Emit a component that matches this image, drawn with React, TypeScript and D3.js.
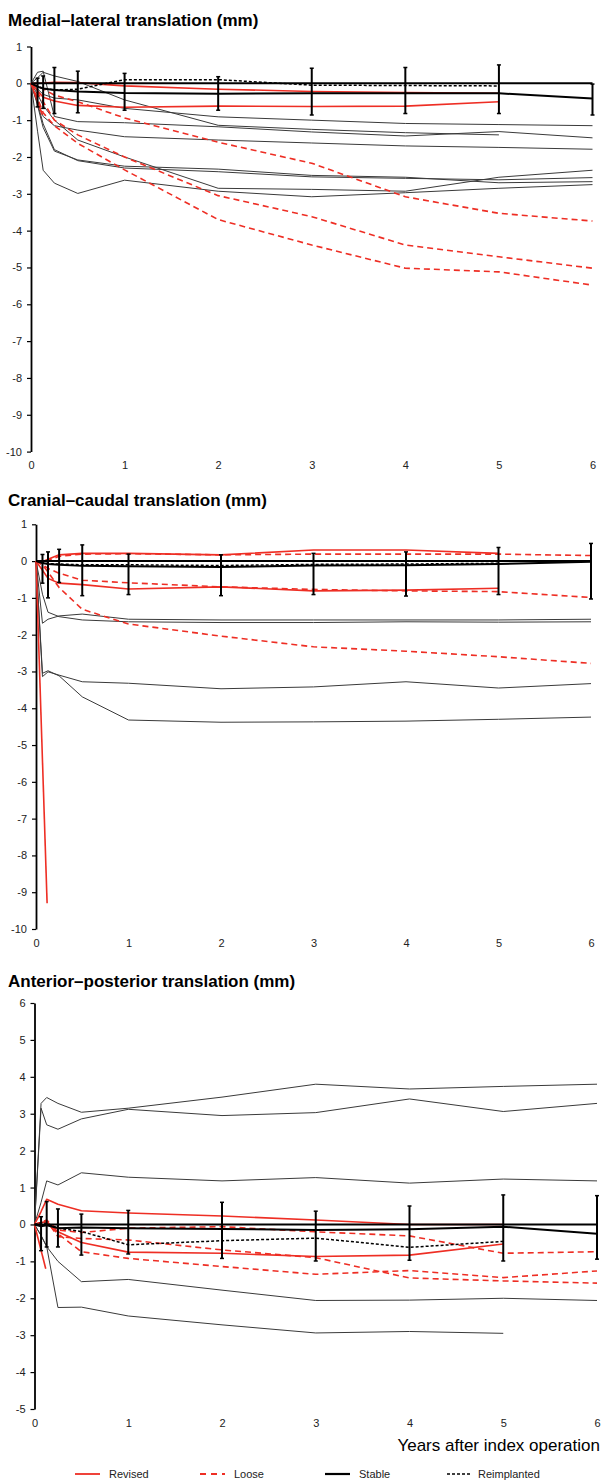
import { useEffect, useRef } from 'react';
import * as d3 from 'd3';

const W = 604;
const H = 1482;
const RED = '#ee2e24';
const FONT = '"Liberation Sans", Arial, Helvetica, sans-serif';

// measurement times (years)
const times = [0, 0.07, 0.13, 0.25, 0.5, 1, 2, 3, 4, 5, 6];
const earlyTimes = [0, 0.12];
const xTicks = [0, 1, 2, 3, 4, 5, 6];

// ---- Medial-lateral ----
const mlStable = [0, -0.09, -0.14, -0.18, -0.22, -0.26, -0.28, -0.27, -0.27, -0.27, -0.41];
const mlStableLow = [null, -0.64, -0.68, -0.82, -0.8, -0.73, -0.73, -0.86, -0.82, -0.82, -0.86];
const mlStableHigh = [null, 0.14, 0.2, 0.43, 0.33, 0.27, 0.18, 0.41, 0.43, 0.5, -0.02];
const mlReimplanted = [0, -0.08, -0.14, -0.18, -0.16, 0.1, 0.1, -0.05, -0.06, -0.07];
const mlRevised1 = [0, 0, 0.01, 0.03, 0.02, -0.07, -0.16, -0.22, -0.25, -0.27];
const mlRevised2 = [0, -0.2, -0.38, -0.48, -0.6, -0.65, -0.62, -0.63, -0.62, -0.5];
const mlRevised3 = [0, -0.85];
const mlLoose1 = [0, -0.08, -0.15, -0.32, -0.5, -0.94, -1.6, -2.17, -3.08, -3.53, -3.74];
const mlLoose2 = [0, -0.25, -0.5, -1.0, -1.4, -2.0, -3.05, -3.62, -4.39, -4.71, -5.02];
const mlLoose3 = [0, -0.4, -0.8, -1.15, -1.63, -2.35, -3.7, -4.39, -5.02, -5.12, -5.48];
const mlThin1 = [0, -0.15, -0.3, -0.4, -0.45, -0.68, -0.91, -1.0, -1.09, -1.12, -1.15];
const mlThin2 = [0, 0.15, 0.3, 0.2, 0.05, -0.45, -1.14, -1.25, -1.34, -1.4];
const mlThin3 = [0, 0.3, 0.33, -0.9, -1.04, -1.07, -1.18, -1.32, -1.43, -1.31, -1.48];
const mlThin4 = [0, -0.5, -0.9, -1.15, -1.27, -1.45, -1.54, -1.62, -1.7, -1.74, -1.79];
const mlThin5 = [0, -0.3, -0.6, -1.0, -1.54, -2.0, -2.85, -2.88, -2.93, -2.55, -2.36];
const mlThin6 = [0, -0.6, -1.2, -1.84, -2.08, -2.25, -2.33, -2.5, -2.55, -2.7, -2.67];
const mlThin7 = [0, -0.55, -1.1, -1.8, -2.1, -2.3, -2.4, -2.54, -2.58, -2.62, -2.56];
const mlThin8 = [0, -1.3, -2.36, -2.71, -2.99, -2.63, -2.93, -3.08, -2.97, -2.85, -2.75];

// ---- Cranial-caudal ----
const ccStable = [0, -0.05, -0.08, -0.1, -0.13, -0.14, -0.16, -0.12, -0.11, -0.08, -0.02];
const ccStableLow = [null, -0.6, -1.0, -0.58, -0.94, -0.91, -0.94, -0.91, -0.95, -0.91, -1.03];
const ccStableHigh = [null, 0.18, 0.25, 0.32, 0.44, 0.19, 0.17, 0.21, 0.25, 0.37, 0.48];
const ccReimplanted = [0, -0.04, -0.07, -0.08, -0.1, -0.1, -0.12, -0.09, -0.08, -0.06];
const ccRevised1 = [0, -0.02, 0.05, 0.17, 0.21, 0.21, 0.17, 0.3, 0.3, 0.21];
const ccRevised2 = [0, -0.25, -0.47, -0.6, -0.64, -0.76, -0.7, -0.81, -0.79, -0.74];
const ccRevised3 = [0, -9.3];
const ccLoose1 = [0, 0, 0.02, 0.13, 0.19, 0.2, 0.17, 0.19, 0.19, 0.19, 0.15];
const ccLoose2 = [0, -0.1, -0.2, -0.33, -0.52, -0.59, -0.7, -0.77, -0.81, -0.83, -0.99];
const ccLoose3 = [0, -0.1, -0.3, -0.72, -1.31, -1.71, -2.04, -2.33, -2.45, -2.6, -2.78];
const ccThin1 = [0, -1.69, -1.58, -1.49, -1.44, -1.58, -1.6, -1.6, -1.6, -1.6, -1.58];
const ccThin2 = [0, -0.9, -1.39, -1.51, -1.6, -1.65, -1.67, -1.67, -1.65, -1.66, -1.65];
const ccThin3 = [0, -3.14, -3.01, -3.1, -3.28, -3.32, -3.47, -3.42, -3.28, -3.45, -3.33];
const ccThin4 = [0, -3.05, -2.98, -3.12, -3.69, -4.32, -4.38, -4.37, -4.35, -4.3, -4.24];

// ---- Anterior-posterior ----
const apStable = [0, -0.05, -0.02, -0.1, -0.08, -0.1, -0.12, -0.15, -0.13, -0.06, -0.25];
const apStableLow = [null, -0.71, -0.61, -0.61, -0.83, -0.8, -0.92, -0.99, -0.97, -0.99, -0.94];
const apStableHigh = [null, 0.21, 0.62, 0.42, 0.28, 0.38, 0.6, 0.36, 0.5, 0.8, 0.78];
const apReimplanted = [0, 0.05, 0.02, -0.1, -0.19, -0.55, -0.44, -0.37, -0.62, -0.46];
const apRevised1 = [0, 0.35, 0.68, 0.55, 0.37, 0.31, 0.23, 0.12, 0.0, 0.0];
const apRevised2 = [0, 0.05, 0.08, -0.2, -0.49, -0.75, -0.78, -0.87, -0.83, -0.53];
const apRevised3 = [0, -1.2];
const apLoose1 = [0, 0.05, 0.12, -0.15, -0.22, -0.1, -0.06, -0.2, -0.31, -0.78, -0.74];
const apLoose2 = [0, 0.05, 0.1, -0.33, -0.38, -0.42, -0.69, -0.9, -1.45, -1.53, -1.59];
const apLoose3 = [0, 0.05, 0.05, -0.25, -0.74, -0.92, -1.14, -1.35, -1.25, -1.44, -1.26];
const apThin1 = [0, 3.28, 3.44, 3.28, 3.04, 3.15, 3.45, 3.8, 3.67, 3.74, 3.8];
const apThin2 = [0, 3.15, 2.7, 2.58, 2.86, 3.12, 2.95, 3.03, 3.4, 3.06, 3.28];
const apThin3 = [0, 0.6, 1.18, 1.07, 1.4, 1.28, 1.18, 1.27, 1.12, 1.23, 1.18];
const apThin4 = [0, -0.3, -0.6, -1.0, -1.55, -1.49, -1.78, -2.06, -2.05, -2.0, -2.06];
const apThin5 = [0, -0.3, -0.6, -2.25, -2.24, -2.48, -2.72, -2.94, -2.9, -2.95];

const legendItems = [
  { label: 'Revised', color: RED, dash: null, width: 1.8 },
  { label: 'Loose', color: RED, dash: '6,5', width: 1.8 },
  { label: 'Stable', color: '#000', dash: null, width: 2.2 },
  { label: 'Reimplanted', color: '#000', dash: '3,2', width: 1.6 },
];

const panels = [
  {
    title: 'Medial–lateral translation (mm)', titleY: 26,
    left: 31, right: 592.5, top: 46.5, bottom: 451.6, yMin: -10, yMax: 1,
    thin: [mlThin1, mlThin2, mlThin3, mlThin4, mlThin5, mlThin6, mlThin7, mlThin8],
    loose: [mlLoose1, mlLoose2, mlLoose3],
    revised: [mlRevised1, mlRevised2], revisedEarly: mlRevised3,
    reimplanted: mlReimplanted, stable: mlStable, low: mlStableLow, high: mlStableHigh,
  },
  {
    title: 'Cranial–caudal translation (mm)', titleY: 506,
    left: 36, right: 591, top: 524.3, bottom: 929, yMin: -10, yMax: 1,
    thin: [ccThin1, ccThin2, ccThin3, ccThin4],
    loose: [ccLoose1, ccLoose2, ccLoose3],
    revised: [ccRevised1, ccRevised2], revisedEarly: ccRevised3,
    reimplanted: ccReimplanted, stable: ccStable, low: ccStableLow, high: ccStableHigh,
  },
  {
    title: 'Anterior–posterior translation (mm)', titleY: 987,
    left: 34.5, right: 597, top: 1003, bottom: 1409, yMin: -5, yMax: 6,
    thin: [apThin1, apThin2, apThin3, apThin4, apThin5],
    loose: [apLoose1, apLoose2, apLoose3],
    revised: [apRevised1, apRevised2], revisedEarly: apRevised3,
    reimplanted: apReimplanted, stable: apStable, low: apStableLow, high: apStableHigh,
  },
];

const App = () => {
  const ref = useRef<SVGSVGElement>(null);

  useEffect(() => {
    const svg = d3.select(ref.current);
    svg.selectAll('*').remove();

    panels.forEach((p) => {
      const x = d3.scaleLinear().domain([0, 6]).range([p.left, p.right]);
      const y = d3.scaleLinear().domain([p.yMin, p.yMax]).range([p.bottom, p.top]);
      const g = svg.append('g');
      const line = d3
        .line<[number, number]>()
        .x((d) => x(d[0]))
        .y((d) => y(d[1]));

      const draw = (vals: number[], t: number[], color: string, width: number, dash: string | null) => {
        g.append('path')
          .datum(vals.map((v, i) => [t[i], v] as [number, number]))
          .attr('fill', 'none')
          .attr('stroke', color)
          .attr('stroke-width', width)
          .attr('stroke-dasharray', dash)
          .attr('stroke-linejoin', 'round')
          .attr('d', line);
      };

      // title
      g.append('text')
        .attr('x', 8)
        .attr('y', p.titleY)
        .attr('font-family', FONT)
        .attr('font-size', 17)
        .attr('font-weight', 'bold')
        .text(p.title);

      // y axis, plain hyphen minus like the original
      const yAxis = g
        .append('g')
        .attr('transform', `translate(${p.left},0)`)
        .call(
          d3.axisLeft(y)
            .tickValues(d3.range(p.yMin, p.yMax + 1))
            .tickFormat((d) => String(d))
            .tickSize(4)
            .tickSizeOuter(0)
            .tickPadding(5)
        );
      yAxis.select('.domain').attr('stroke-width', 1.8);
      yAxis.selectAll('line').attr('stroke-width', 1.2);
      yAxis.selectAll('text').attr('font-family', FONT).attr('font-size', 11).attr('fill', '#222');

      // x tick labels (no axis line)
      const xAxis = g
        .append('g')
        .attr('transform', `translate(0,${p.bottom})`)
        .call(d3.axisBottom(x).tickValues(xTicks).tickFormat((d) => String(d)).tickSize(0).tickPadding(10));
      xAxis.select('.domain').remove();
      xAxis.selectAll('text').attr('font-family', FONT).attr('font-size', 11).attr('fill', '#222');

      // individual series
      p.thin.forEach((s) => draw(s, times, '#3a3a3a', 1, null));
      p.loose.forEach((s) => draw(s, times, RED, 1.6, '6,4'));
      p.revised.forEach((s) => draw(s, times, RED, 1.6, null));
      draw(p.revisedEarly, earlyTimes, RED, 1.6, null);
      draw(p.reimplanted, times, '#000', 1.5, '3,2');

      // zero reference line
      g.append('line')
        .attr('x1', x(0))
        .attr('x2', x(6))
        .attr('y1', y(0))
        .attr('y2', y(0))
        .attr('stroke', '#000')
        .attr('stroke-width', 2);

      // stable mean with error bars
      draw(p.stable, times, '#000', 2, null);
      const bars = times
        .map((t, i) => ({ t, lo: p.low[i], hi: p.high[i] }))
        .filter((d) => d.lo !== null);
      bars.forEach((d) => {
        const bx = x(d.t);
        g.append('line')
          .attr('x1', bx).attr('x2', bx)
          .attr('y1', y(d.lo as number)).attr('y2', y(d.hi as number))
          .attr('stroke', '#000').attr('stroke-width', 2);
        [d.lo, d.hi].forEach((v) => {
          g.append('line')
            .attr('x1', bx - 2).attr('x2', bx + 2)
            .attr('y1', y(v as number)).attr('y2', y(v as number))
            .attr('stroke', '#000').attr('stroke-width', 1.5);
        });
      });
    });

    // x axis title
    svg.append('text')
      .attr('x', 600)
      .attr('y', 1451)
      .attr('text-anchor', 'end')
      .attr('font-family', FONT)
      .attr('font-size', 17)
      .text('Years after index operation');

    // legend
    const legendX = [75, 200, 325, 447];
    const legendY = 1474;
    legendItems.forEach((item, i) => {
      const lx = legendX[i];
      svg.append('line')
        .attr('x1', lx).attr('x2', lx + 25)
        .attr('y1', legendY).attr('y2', legendY)
        .attr('stroke', item.color)
        .attr('stroke-width', item.width)
        .attr('stroke-dasharray', item.dash);
      svg.append('text')
        .attr('x', lx + (i === 3 ? 31 : 34))
        .attr('y', legendY + 4)
        .attr('font-family', FONT)
        .attr('font-size', 11)
        .attr('fill', '#222')
        .text(item.label);
    });
  }, []);

  return (
    <svg
      ref={ref}
      width={W}
      height={H}
      viewBox={`0 0 ${W} ${H}`}
      style={{ position: 'absolute', left: 0, top: 0, background: '#fff' }}
    />
  );
};

export default App;
